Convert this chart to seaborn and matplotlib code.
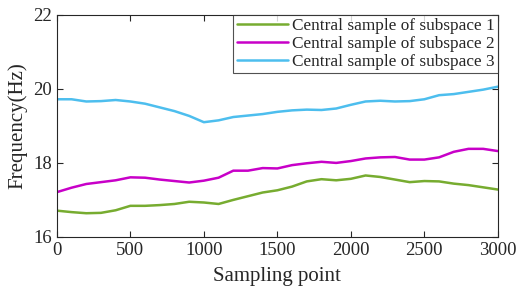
import pandas as pd
import matplotlib
matplotlib.use("Agg")
import matplotlib.pyplot as plt
import seaborn as sns

sampling_point = list(range(0, 3001, 100))

subspace_1 = [16.71, 16.67, 16.64, 16.65, 16.72, 16.84, 16.84, 16.86, 16.89, 16.95,
              16.93, 16.89, 17.00, 17.10, 17.20, 17.26, 17.36, 17.50, 17.56, 17.53,
              17.57, 17.66, 17.62, 17.55, 17.48, 17.51, 17.50, 17.44, 17.40, 17.34, 17.28]
subspace_2 = [17.21, 17.33, 17.43, 17.48, 17.53, 17.61, 17.60, 17.55, 17.51, 17.47,
              17.52, 17.60, 17.79, 17.79, 17.86, 17.85, 17.94, 17.99, 18.03, 18.00,
              18.05, 18.12, 18.15, 18.16, 18.09, 18.09, 18.15, 18.30, 18.38, 18.38, 18.32]
subspace_3 = [19.72, 19.72, 19.66, 19.67, 19.70, 19.66, 19.60, 19.50, 19.40, 19.27,
              19.10, 19.15, 19.24, 19.28, 19.32, 19.38, 19.42, 19.44, 19.43, 19.47,
              19.57, 19.66, 19.68, 19.66, 19.67, 19.72, 19.83, 19.86, 19.92, 19.98, 20.06]

series_names = ["Central sample of subspace 1", "Central sample of subspace 2",
                "Central sample of subspace 3"]
colors = ["#77AC30", "#C800C8", "#4DBEEE"]

df = pd.concat([
    pd.DataFrame({"x": sampling_point, "freq": vals, "series": name})
    for name, vals in zip(series_names, [subspace_1, subspace_2, subspace_3])
])

sns.set_style("ticks")
plt.rcParams["font.family"] = ["Liberation Serif", "DejaVu Serif"]

fig = plt.figure(figsize=(5.17, 2.98), dpi=100)
ax = fig.add_axes([0.110, 0.205, 0.853, 0.745])

sns.lineplot(data=df, x="x", y="freq", hue="series", palette=colors,
             linewidth=1.8, ax=ax)

ax.set_xlim(0, 3000)
ax.set_ylim(16, 22)
ax.set_xticks([0, 500, 1000, 1500, 2000, 2500, 3000])
ax.set_yticks([16, 18, 20, 22])
ax.set_xlabel("Sampling point", fontsize=15, labelpad=6)
ax.set_ylabel("Frequency(Hz)", fontsize=15, labelpad=4)
ax.tick_params(direction="in", length=4, width=0.8, labelsize=13.5,
               top=True, right=True, colors="#262626")
for s in ax.spines.values():
    s.set_visible(True)
    s.set_linewidth(0.8)
    s.set_color("#262626")

leg = ax.legend(loc="upper right", borderaxespad=0, fontsize=12.4, frameon=True,
                fancybox=False, edgecolor="#262626", handlelength=3.0,
                handletextpad=0.2, borderpad=0.2, labelspacing=0.1)
leg.get_frame().set_linewidth(0.8)
leg.set_title(None)

fig.savefig("out.png", dpi=100)
